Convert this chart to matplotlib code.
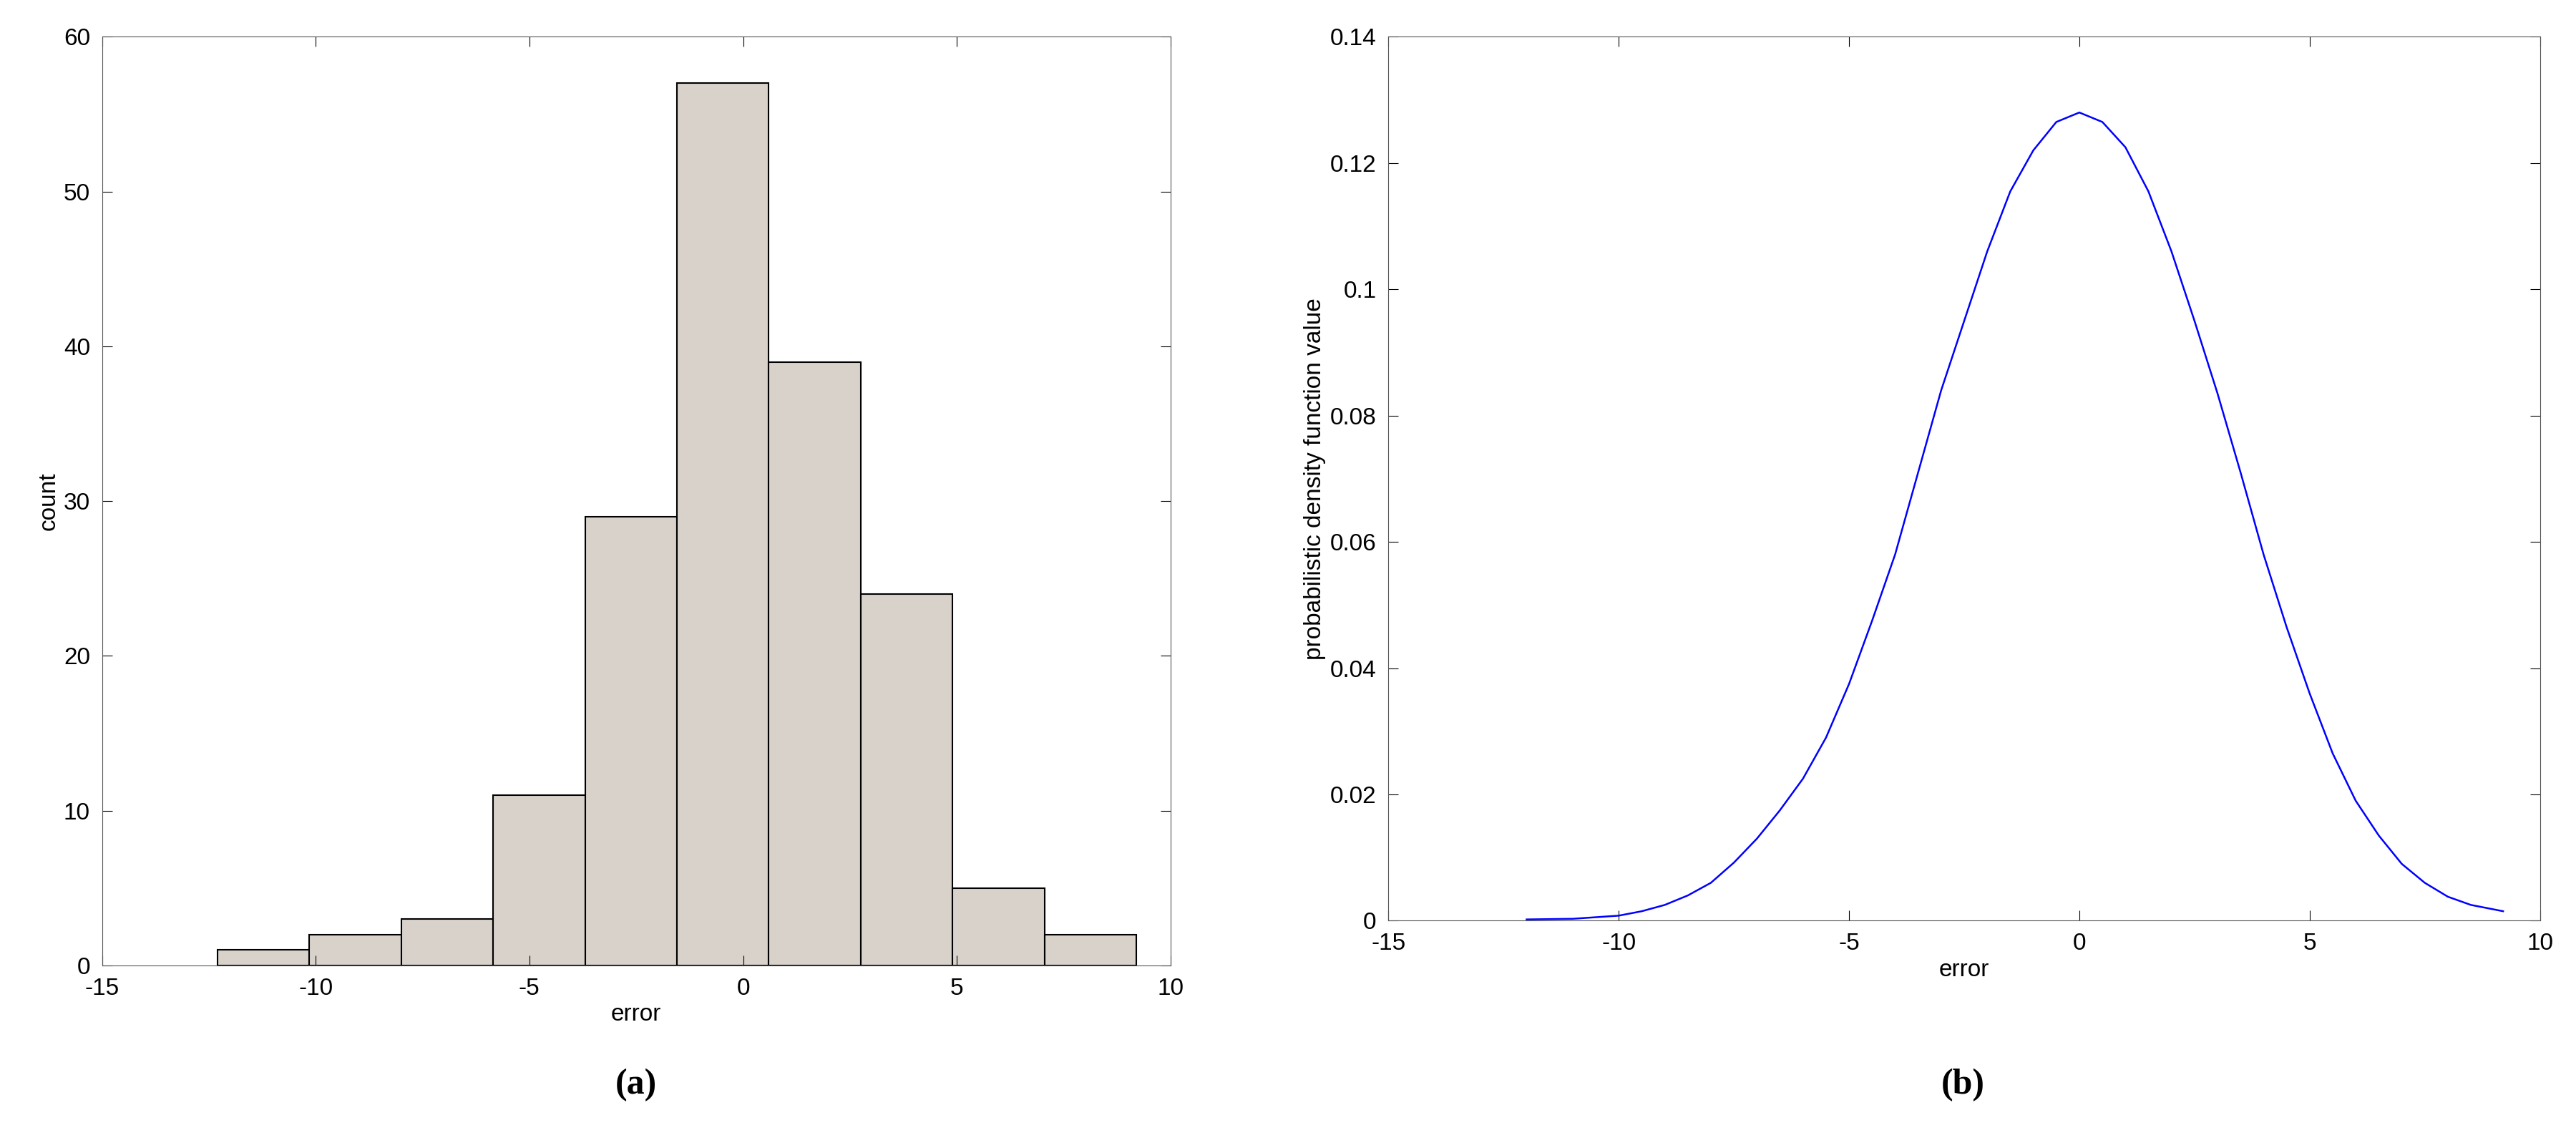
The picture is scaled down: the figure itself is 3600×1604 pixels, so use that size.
import matplotlib
matplotlib.use("Agg")
import matplotlib.pyplot as plt
import numpy as np

bin_edges = [-12.3, -10.15, -8.0, -5.85, -3.7, -1.55, 0.6, 2.75, 4.9, 7.05, 9.2]
counts = [1, 2, 3, 11, 29, 57, 39, 24, 5, 2]

pdf_x = [-12, -11, -10, -9.5, -9, -8.5, -8, -7.5, -7, -6.5, -6, -5.5, -5, -4.5, -4, -3.5, -3, -2.5, -2, -1.5, -1, -0.5, 0,
         0.5, 1, 1.5, 2, 2.5, 3, 3.5, 4, 4.5, 5, 5.5, 6, 6.5, 7, 7.5, 8, 8.5, 9.2]
pdf_y = [0.0002, 0.0003, 0.0008, 0.0015, 0.0025, 0.004, 0.006, 0.0092, 0.013, 0.0175, 0.0225, 0.029, 0.0375, 0.0475, 0.058, 0.071, 0.084, 0.095, 0.106, 0.1155, 0.122, 0.1265, 0.128,
         0.1265, 0.1225, 0.1155, 0.106, 0.095, 0.0835, 0.071, 0.058, 0.0465, 0.036, 0.0265, 0.019, 0.0135, 0.009, 0.006, 0.0038, 0.0025, 0.0015]

plt.rcParams['font.family'] = ['Liberation Sans', 'DejaVu Sans']
plt.rcParams['axes.unicode_minus'] = False
fig = plt.figure(figsize=(36, 16.04), dpi=100)

ax1 = fig.add_axes([0.0396, 0.159, 0.4148, 0.809])
ax1.bar(bin_edges[:-1], counts, width=np.diff(bin_edges), align='edge',
        color='#d8d2cb', edgecolor='black', linewidth=1.5)
ax1.set_xlim(-15, 10)
ax1.set_ylim(0, 60)
ax1.set_xticks([-15, -10, -5, 0, 5, 10])
ax1.set_yticks(range(0, 61, 10))
ax1.set_xlabel('error', fontsize=24)
ax1.set_ylabel('count', fontsize=24)

ax2 = fig.add_axes([0.539, 0.198, 0.447, 0.770])
ax2.plot(pdf_x, pdf_y, color='blue', linewidth=1.8)
ax2.set_xlim(-15, 10)
ax2.set_ylim(0, 0.14)
ax2.set_xticks([-15, -10, -5, 0, 5, 10])
ax2.set_yticks([0, 0.02, 0.04, 0.06, 0.08, 0.1, 0.12, 0.14])
ax2.set_yticklabels(['0', '0.02', '0.04', '0.06', '0.08', '0.1', '0.12', '0.14'])
ax2.set_xlabel('error', fontsize=24)
ax2.set_ylabel('probabilistic density function value', fontsize=24)

for ax in (ax1, ax2):
    ax.tick_params(labelsize=24, direction='in', length=10, top=True, right=True, pad=12)
    for s in ax.spines.values():
        s.set_color('#555555')

fig.text(0.247, 0.055, '(a)', ha='center', va='center', fontsize=36, family='Liberation Serif', fontweight='bold')
fig.text(0.762, 0.055, '(b)', ha='center', va='center', fontsize=36, family='Liberation Serif', fontweight='bold')

fig.savefig('out.png', dpi=100)
